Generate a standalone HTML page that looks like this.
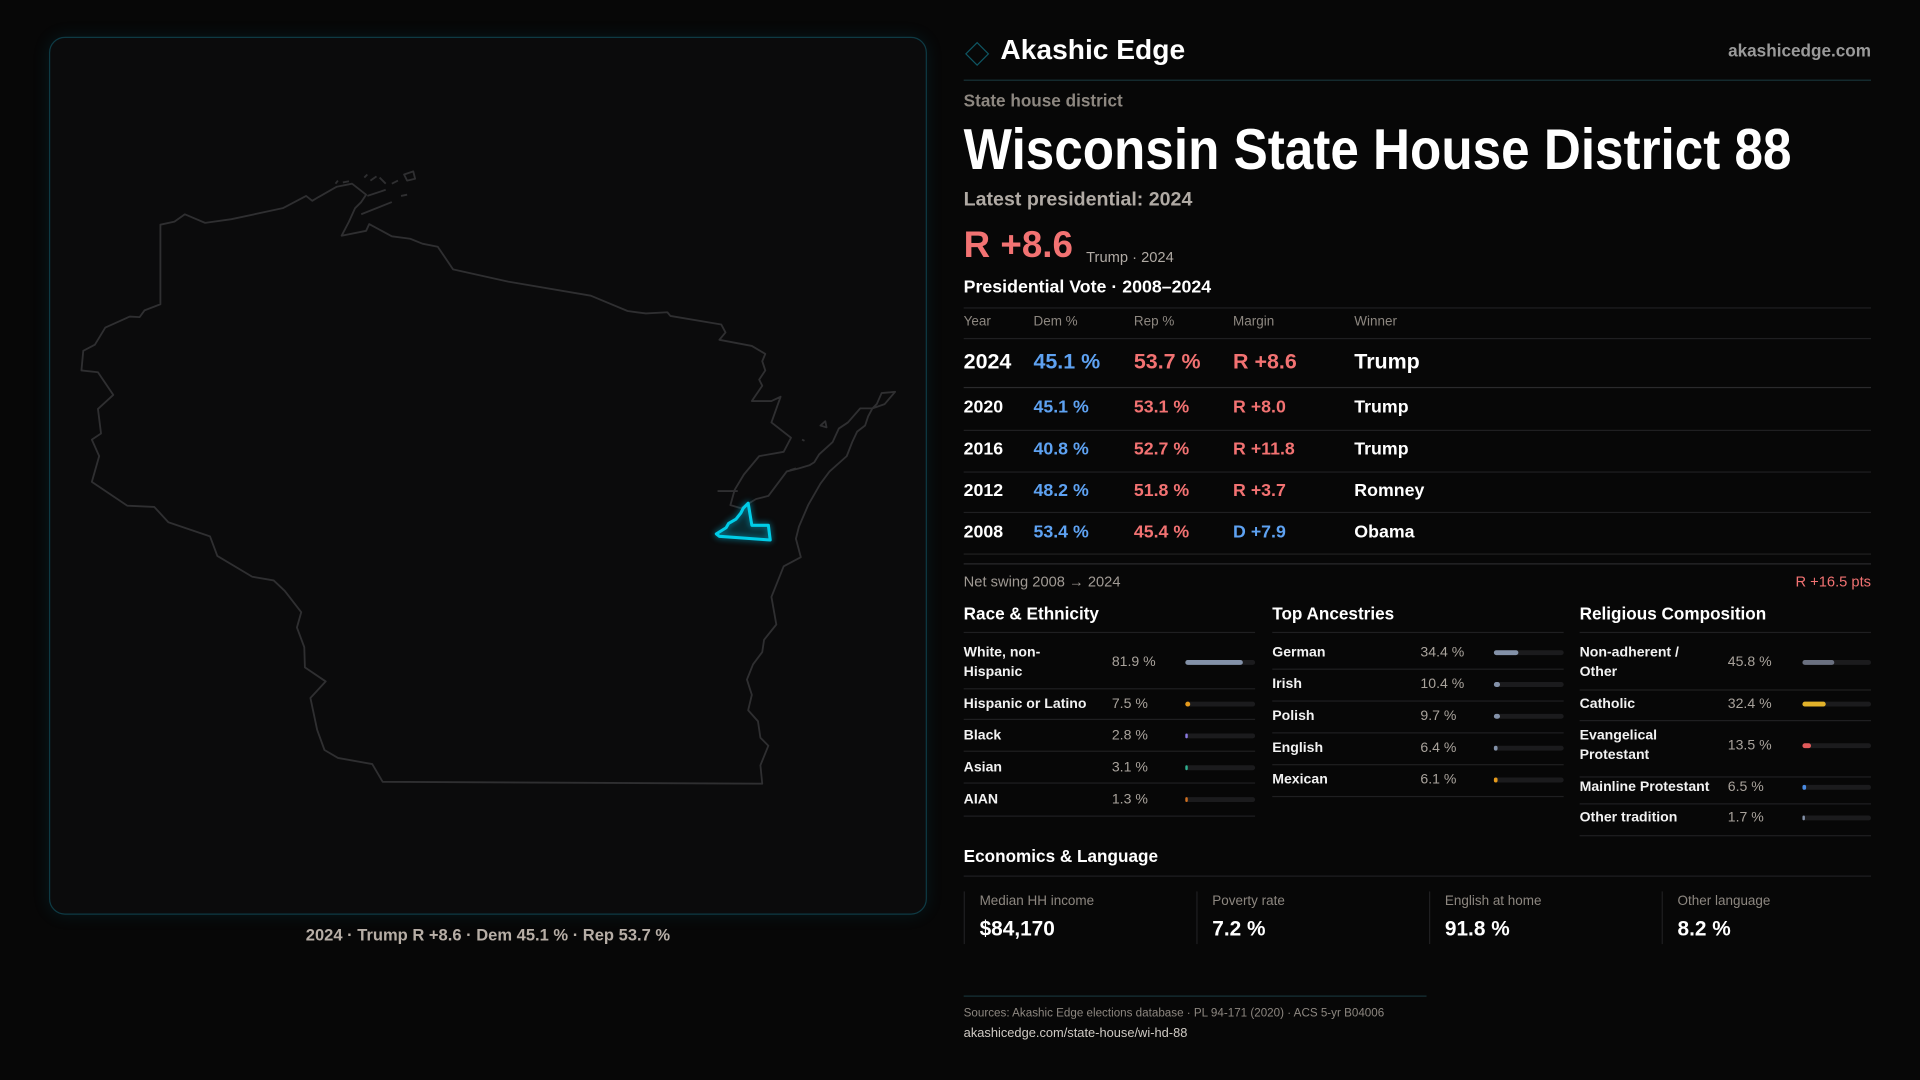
<!DOCTYPE html>
<html><head><meta charset="utf-8"><style>
*{margin:0;padding:0;box-sizing:border-box}
html,body{width:1920px;height:1080px;background:#070707;overflow:hidden}
#s{position:absolute;left:0;top:0;width:1568px;height:882px;transform:scale(1.22449);transform-origin:0 0;font-family:"Liberation Sans",sans-serif;color:#fff}
.a{position:absolute;white-space:nowrap;line-height:1}
.hl{position:absolute;height:1px;background:#1f1f21}
.g{color:#8d8780}
.b{font-weight:bold}
.blue{color:#5ea2f2}.red{color:#f27272}
.trk{position:absolute;height:4px;border-radius:2px;background:#1b1b1d}
.trk i{position:absolute;left:0;top:0;height:4px;border-radius:2px}
.lab{font-size:11.5px;font-weight:bold;color:#f2f2f2;line-height:15.5px}
.val{font-size:11.5px;color:#a9a39c}
</style></head><body><div id="s">
<div style="position:absolute;left:40px;top:30px;width:717px;height:717px;border:1px solid #0e3a44;border-radius:13px;background:#0b0b0c;box-shadow:0 0 14px rgba(0,150,180,0.12)"></div>
<svg style="position:absolute;left:0;top:0" width="784" height="784" viewBox="0 0 1568 1568">
<g fill="none" stroke="#2f2f31" stroke-width="3" stroke-linejoin="round">
<polygon points="262,367 285,362 302,350 335,364 378,358 462,340 500,320 510,328 520,322 550,305 575,300 598,318 590,330 580,340 570,362 558,385 598,377 603,366 640,386 670,390 690,398 715,403 740,440 830,460 965,483 1025,508 1055,512 1090,510 1095,516 1178,530 1185,543 1175,555 1228,565 1250,578 1245,590 1250,605 1240,620 1245,630 1228,655 1260,655 1275,648 1260,690 1292,715 1280,738 1240,745 1215,775 1200,800 1193,825 1210,830 1235,815 1255,810 1285,770 1305,765 1322,760 1330,755 1338,742 1360,722 1370,700 1385,690 1405,667 1425,667 1432,660 1440,642 1462,640 1445,660 1425,667 1418,680 1413,695 1400,705 1392,722 1383,745 1355,770 1340,790 1320,825 1305,860 1300,880 1308,910 1280,925 1260,975 1268,1020 1248,1045 1245,1065 1230,1085 1220,1110 1228,1135 1222,1160 1238,1178 1242,1205 1255,1218 1242,1250 1245,1280 625,1277 608,1248 552,1238 530,1225 518,1192 507,1140 532,1113 498,1090 497,1057 485,1025 492,1000 465,965 447,948 412,942 355,908 343,876 275,853 252,828 208,826 150,787 162,745 150,718 165,708 160,668 185,645 160,608 133,605 136,573 155,563 172,535 212,517 228,518 236,507 262,497"/>
<path d="M590,350 L640,330 M600,320 L630,310 M605,295 L615,288 M620,290 L630,300 M640,300 L650,295 M660,285 L675,280 L678,292 L665,295 Z M655,320 L665,318 M548,300 L552,295 M560,298 L570,296 M595,290 L600,285 M1172,802 L1205,802 M1340,695 L1348,688 L1350,698 Z M1310,718 L1314,720 M1290,768 L1300,765"/>
</g>
<polygon points="1170,872 1186,862 1190,855 1202,848 1210,838 1214,830 1222,822 1228,858 1255,858 1258,882 1175,876" fill="rgba(0,200,240,0.1)" stroke="#00cde8" stroke-width="5" stroke-linejoin="round" style="filter:drop-shadow(0 0 5px rgba(0,200,240,0.7))"/>
</svg>
<div class="a" style="left:0;width:797px;text-align:center;top:757px;font-size:13.5px;color:#b7aea6;font-weight:bold">2024 · Trump R +8.6 · Dem 45.1 % · Rep 53.7 %</div>

<div style="position:absolute;left:791px;top:37px;width:14px;height:14px;border:1.5px solid #0f5562;transform:rotate(45deg)"></div>
<div class="a b" style="left:817px;top:29px;font-size:23px;color:#fff">Akashic Edge</div>
<div class="a b" style="right:40px;top:34px;font-size:14px;color:#9a9a9a">akashicedge.com</div>
<div class="hl" style="left:787px;width:741px;top:65px;background:#173238"></div>
<div class="a b g" style="left:787px;top:75px;font-size:14px">State house district</div>
<div class="a b" style="left:787px;top:98px;font-size:47px;transform:scaleX(0.89);transform-origin:0 0">Wisconsin State House District 88</div>
<div class="a b" style="left:787px;top:156px;font-size:16px;color:#b0aaa4">Latest presidential: 2024</div>
<div class="a b red" style="left:787px;top:186px;font-size:30px">R +8.6</div>
<div class="a" style="left:887px;top:204px;font-size:12px;color:#b0aaa4">Trump · 2024</div>
<div class="a b" style="left:787px;top:228px;font-size:14.5px">Presidential Vote · 2008–2024</div>
<div class="hl" style="left:787px;width:741px;top:251px"></div>
<div class="a g" style="left:787px;top:258px;font-size:11px">Year</div>
<div class="a g" style="left:844px;top:258px;font-size:11px">Dem %</div>
<div class="a g" style="left:926px;top:258px;font-size:11px">Rep %</div>
<div class="a g" style="left:1007px;top:258px;font-size:11px">Margin</div>
<div class="a g" style="left:1106px;top:258px;font-size:11px">Winner</div>
<div class="hl" style="left:787px;width:741px;top:276px"></div>
<div class="a b" style="left:787px;top:287px;font-size:17.5px">2024</div>
<div class="a b blue" style="left:844px;top:287px;font-size:17.5px">45.1 %</div>
<div class="a b red" style="left:926px;top:287px;font-size:17.5px">53.7 %</div>
<div class="a b red" style="left:1007px;top:287px;font-size:17.5px">R +8.6</div>
<div class="a b" style="left:1106px;top:287px;font-size:17.5px">Trump</div>
<div class="hl" style="left:787px;width:741px;top:316px;background:#2a2a2c"></div>

<div class="a b" style="left:787px;top:326px;font-size:14.5px">2020</div><div class="a b blue" style="left:844px;top:326px;font-size:14.5px">45.1 %</div><div class="a b red" style="left:926px;top:326px;font-size:14.5px">53.1 %</div><div class="a b red" style="left:1007px;top:326px;font-size:14.5px">R +8.0</div><div class="a b" style="left:1106px;top:326px;font-size:14.5px">Trump</div>
<div class="hl" style="left:787px;width:741px;top:351px"></div>
<div class="a b" style="left:787px;top:360px;font-size:14.5px">2016</div><div class="a b blue" style="left:844px;top:360px;font-size:14.5px">40.8 %</div><div class="a b red" style="left:926px;top:360px;font-size:14.5px">52.7 %</div><div class="a b red" style="left:1007px;top:360px;font-size:14.5px">R +11.8</div><div class="a b" style="left:1106px;top:360px;font-size:14.5px">Trump</div>
<div class="hl" style="left:787px;width:741px;top:385px"></div>
<div class="a b" style="left:787px;top:394px;font-size:14.5px">2012</div><div class="a b blue" style="left:844px;top:394px;font-size:14.5px">48.2 %</div><div class="a b red" style="left:926px;top:394px;font-size:14.5px">51.8 %</div><div class="a b red" style="left:1007px;top:394px;font-size:14.5px">R +3.7</div><div class="a b" style="left:1106px;top:394px;font-size:14.5px">Romney</div>
<div class="hl" style="left:787px;width:741px;top:418px"></div>
<div class="a b" style="left:787px;top:428px;font-size:14.5px">2008</div><div class="a b blue" style="left:844px;top:428px;font-size:14.5px">53.4 %</div><div class="a b red" style="left:926px;top:428px;font-size:14.5px">45.4 %</div><div class="a b blue" style="left:1007px;top:428px;font-size:14.5px">D +7.9</div><div class="a b" style="left:1106px;top:428px;font-size:14.5px">Obama</div>
<div class="hl" style="left:787px;width:741px;top:452px"></div>
<div class="hl" style="left:787px;width:741px;top:460px;background:#2a2a2c"></div>
<div class="a g" style="left:787px;top:469px;font-size:12px;color:#a09a94">Net swing 2008 → 2024</div>
<div class="a red" style="right:40px;top:469px;font-size:12px">R +16.5 pts</div>

<div class="a b" style="left:787px;top:494px;font-size:14px">Race &amp; Ethnicity</div>
<div class="a b" style="left:1039px;top:494px;font-size:14px">Top Ancestries</div>
<div class="a b" style="left:1290px;top:494px;font-size:14px">Religious Composition</div>
<div class="hl" style="left:787px;width:238px;top:516px"></div>
<div class="hl" style="left:1039px;width:238px;top:516px"></div>
<div class="hl" style="left:1290px;width:238px;top:516px"></div>

<div class="a lab" style="left:787px;top:526px">White, non-<br>Hispanic</div><div class="a val" style="left:908px;top:536px">81.9 %</div><div class="trk" style="left:968px;top:539px;width:57px"><i style="width:47px;background:#8391a8"></i></div>
<div class="hl" style="left:787px;width:238px;top:562px"></div>
<div class="a lab" style="left:787px;top:568px">Hispanic or Latino</div><div class="a val" style="left:908px;top:570px">7.5 %</div><div class="trk" style="left:968px;top:573px;width:57px"><i style="width:4px;background:#e59a1c"></i></div>
<div class="hl" style="left:787px;width:238px;top:587px"></div>
<div class="a lab" style="left:787px;top:594px">Black</div><div class="a val" style="left:908px;top:596px">2.8 %</div><div class="trk" style="left:968px;top:599px;width:57px"><i style="width:2px;background:#8a7ae0"></i></div>
<div class="hl" style="left:787px;width:238px;top:613px"></div>
<div class="a lab" style="left:787px;top:620px">Asian</div><div class="a val" style="left:908px;top:622px">3.1 %</div><div class="trk" style="left:968px;top:625px;width:57px"><i style="width:2px;background:#30b090"></i></div>
<div class="hl" style="left:787px;width:238px;top:639px"></div>
<div class="a lab" style="left:787px;top:646px">AIAN</div><div class="a val" style="left:908px;top:648px">1.3 %</div><div class="trk" style="left:968px;top:651px;width:57px"><i style="width:1.5px;background:#d07020"></i></div>
<div class="hl" style="left:787px;width:238px;top:666px"></div>

<div class="a lab" style="left:1039px;top:526px">German</div><div class="a val" style="left:1160px;top:528px">34.4 %</div><div class="trk" style="left:1220px;top:531px;width:57px"><i style="width:20px;background:#8391a8"></i></div>
<div class="hl" style="left:1039px;width:238px;top:546px"></div>
<div class="a lab" style="left:1039px;top:552px">Irish</div><div class="a val" style="left:1160px;top:554px">10.4 %</div><div class="trk" style="left:1220px;top:557px;width:57px"><i style="width:5px;background:#8391a8"></i></div>
<div class="hl" style="left:1039px;width:238px;top:572px"></div>
<div class="a lab" style="left:1039px;top:578px">Polish</div><div class="a val" style="left:1160px;top:580px">9.7 %</div><div class="trk" style="left:1220px;top:583px;width:57px"><i style="width:5px;background:#8391a8"></i></div>
<div class="hl" style="left:1039px;width:238px;top:598px"></div>
<div class="a lab" style="left:1039px;top:604px">English</div><div class="a val" style="left:1160px;top:606px">6.4 %</div><div class="trk" style="left:1220px;top:609px;width:57px"><i style="width:3px;background:#8391a8"></i></div>
<div class="hl" style="left:1039px;width:238px;top:624px"></div>
<div class="a lab" style="left:1039px;top:630px">Mexican</div><div class="a val" style="left:1160px;top:632px">6.1 %</div><div class="trk" style="left:1220px;top:635px;width:57px"><i style="width:3px;background:#e59a1c"></i></div>
<div class="hl" style="left:1039px;width:238px;top:650px"></div>

<div class="a lab" style="left:1290px;top:526px">Non-adherent /<br>Other</div><div class="a val" style="left:1411px;top:536px">45.8 %</div><div class="trk" style="left:1472px;top:539px;width:56px"><i style="width:26px;background:#6a7080"></i></div>
<div class="hl" style="left:1290px;width:238px;top:563px"></div>
<div class="a lab" style="left:1290px;top:568px">Catholic</div><div class="a val" style="left:1411px;top:570px">32.4 %</div><div class="trk" style="left:1472px;top:573px;width:56px"><i style="width:19px;background:#e2b22a"></i></div>
<div class="hl" style="left:1290px;width:238px;top:588px"></div>
<div class="a lab" style="left:1290px;top:594px">Evangelical<br>Protestant</div><div class="a val" style="left:1411px;top:604px">13.5 %</div><div class="trk" style="left:1472px;top:607px;width:56px"><i style="width:7px;background:#e05a5a"></i></div>
<div class="hl" style="left:1290px;width:238px;top:634px"></div>
<div class="a lab" style="left:1290px;top:636px">Mainline Protestant</div><div class="a val" style="left:1411px;top:638px">6.5 %</div><div class="trk" style="left:1472px;top:641px;width:56px"><i style="width:3px;background:#4a8ae0"></i></div>
<div class="hl" style="left:1290px;width:238px;top:656px"></div>
<div class="a lab" style="left:1290px;top:661px">Other tradition</div><div class="a val" style="left:1411px;top:663px">1.7 %</div><div class="trk" style="left:1472px;top:666px;width:56px"><i style="width:1.5px;background:#8391a8"></i></div>
<div class="hl" style="left:1290px;width:238px;top:682px"></div>

<div class="a b" style="left:787px;top:692px;font-size:14px">Economics &amp; Language</div>
<div class="hl" style="left:787px;width:741px;top:715px"></div>
<div style="position:absolute;left:787px;top:728px;width:1px;height:43px;background:#1f1f21"></div>
<div style="position:absolute;left:977px;top:728px;width:1px;height:43px;background:#1f1f21"></div>
<div style="position:absolute;left:1167px;top:728px;width:1px;height:43px;background:#1f1f21"></div>
<div style="position:absolute;left:1357px;top:728px;width:1px;height:43px;background:#1f1f21"></div>
<div class="a g" style="left:800px;top:731px;font-size:11px">Median HH income</div><div class="a b" style="left:800px;top:750px;font-size:17px">$84,170</div>
<div class="a g" style="left:990px;top:731px;font-size:11px">Poverty rate</div><div class="a b" style="left:990px;top:750px;font-size:17px">7.2 %</div>
<div class="a g" style="left:1180px;top:731px;font-size:11px">English at home</div><div class="a b" style="left:1180px;top:750px;font-size:17px">91.8 %</div>
<div class="a g" style="left:1370px;top:731px;font-size:11px">Other language</div><div class="a b" style="left:1370px;top:750px;font-size:17px">8.2 %</div>

<div class="hl" style="left:787px;width:378px;top:813px;background:#173238"></div>
<div class="a g" style="left:787px;top:823px;font-size:9.5px">Sources: Akashic Edge elections database · PL 94-171 (2020) · ACS 5-yr B04006</div>
<div class="a" style="left:787px;top:839px;font-size:10.5px;color:#cfcac4">akashicedge.com/state-house/wi-hd-88</div>
</div></body></html>
